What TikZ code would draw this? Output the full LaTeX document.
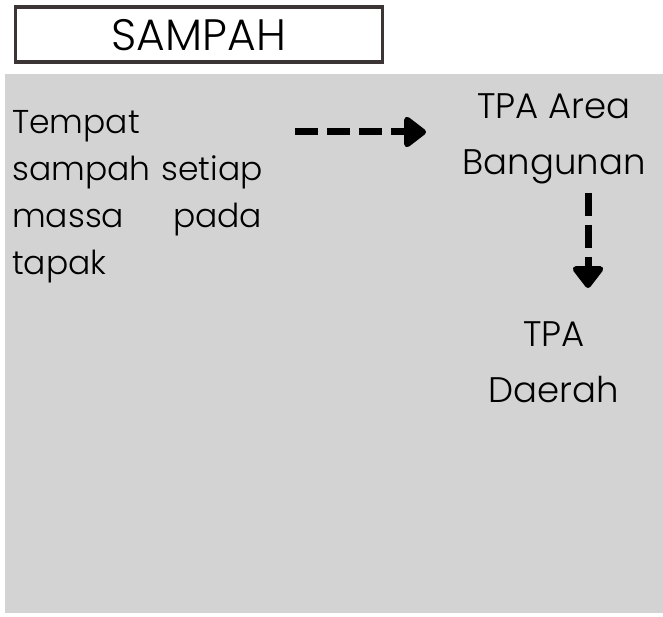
\documentclass[tikz,border=0pt]{standalone}
\usepackage{fontspec}
\setmainfont{Poppins}[UprightFont={* Light}]
\usetikzlibrary{arrows.meta}
\definecolor{panelgrey}{HTML}{D3D3D3}
\definecolor{frameline}{HTML}{3B3536}
\tikzset{
  lbl/.style={inner sep=0pt, font=\fontsize{33}{47}\selectfont},
  lblc/.style={inner sep=0pt, align=center, font=\fontsize{35.5}{56}\selectfont},
  flow/.style={line width=7pt, dash pattern=on 23pt off 9pt,
    -{Triangle[length=24pt,width=35pt,round]}}
}
\begin{document}
\begin{tikzpicture}[x=1pt,y=-1pt]
\useasboundingbox (0,0) rectangle (663,617);
\fill[white] (0,0) rectangle (663,617);
% grey panel
\fill[panelgrey] (5,74) rectangle (663,613);
% title box
\node[draw=frameline, line width=3.5pt, minimum width=367pt, minimum height=55pt,
  inner sep=0pt, anchor=north west, font=\fontsize{44}{50}\selectfont] (title)
  at (13.5,5.5) {SAMPAH};
% left text
\node[lbl, anchor=north west, text width=300pt, align=left] (src) at (12,110)
  {Tempat\\sampah setiap\\\makebox[250pt][s]{massa\hfill pada}\\tapak};
% right texts
\node[lblc, anchor=north] (tpaA) at (554,93) {TPA Area\\Bangunan};
\node[lblc, anchor=north] (tpaD) at (554,321) {TPA\\Daerah};
% arrows
\coordinate (h1) at (295,132);
\coordinate (h2) at (426,132);
\coordinate (v1) at (588,193);
\coordinate (v2) at (588,288);
\draw[flow] (h1) -- (h2);
\draw[flow] (v1) -- (v2);
\end{tikzpicture}
\end{document}
